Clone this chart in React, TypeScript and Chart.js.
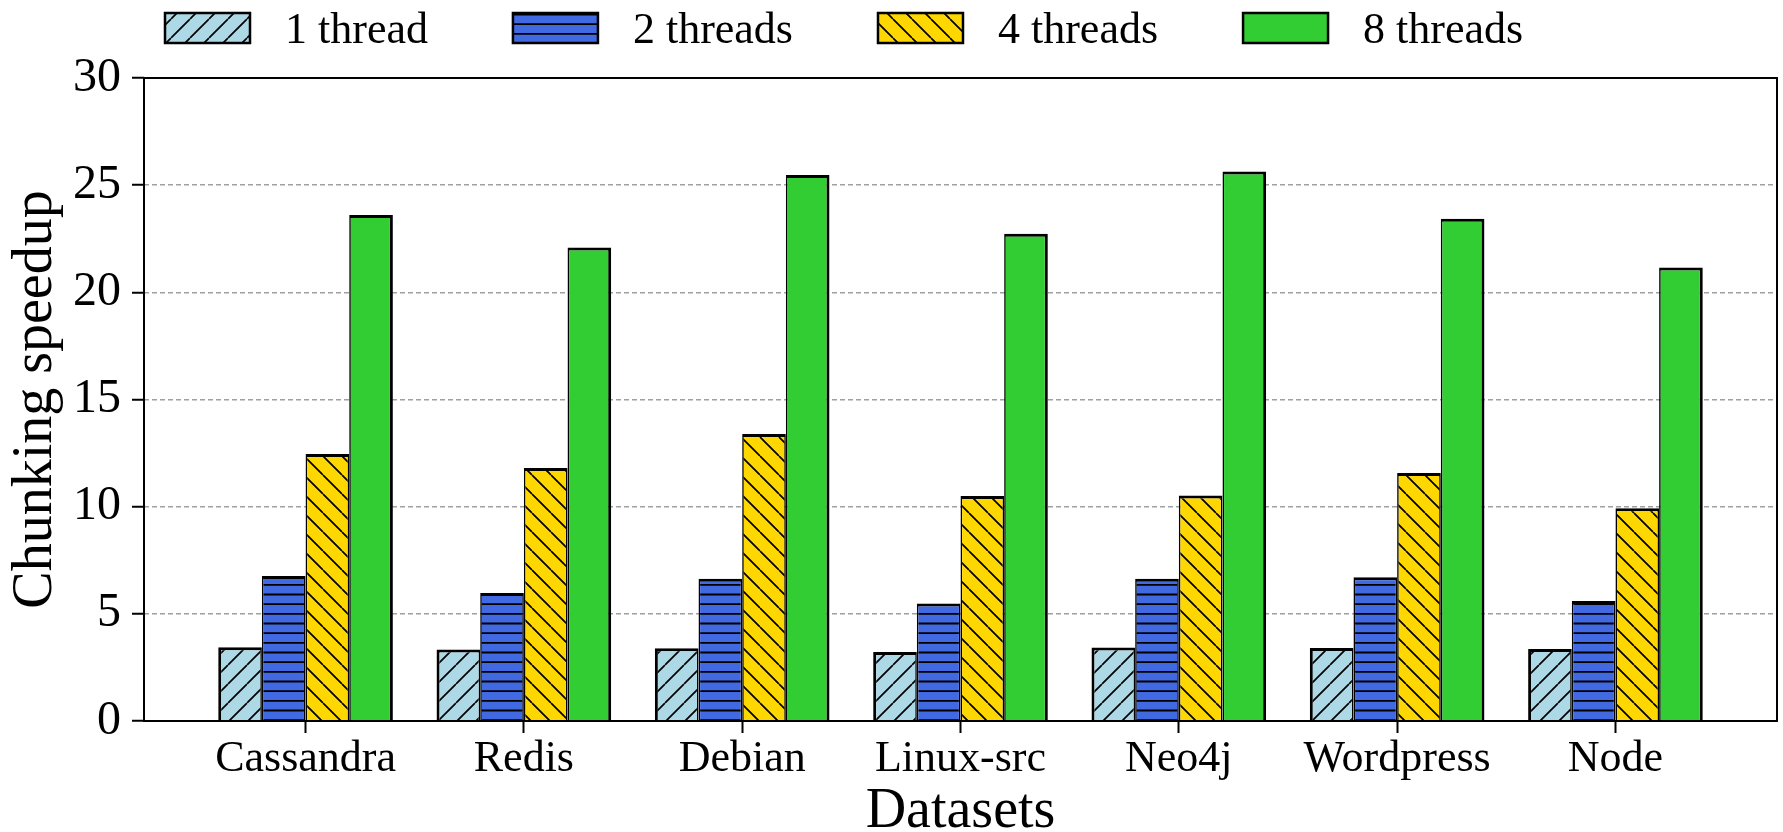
import React, { useEffect, useRef } from "react";
import { Chart, registerables } from "chart.js";

Chart.register(...registerables);

const categories = ["Cassandra", "Redis", "Debian", "Linux-src", "Neo4j", "Wordpress", "Node"];
const seriesLabels = ["1 thread", "2 threads", "4 threads", "8 threads"];
const thread1 = [3.44, 3.34, 3.39, 3.22, 3.43, 3.41, 3.36];
const thread2 = [6.77, 5.97, 6.64, 5.48, 6.64, 6.71, 5.6];
const thread4 = [12.46, 11.8, 13.39, 10.5, 10.52, 11.57, 9.93];
const thread8 = [23.61, 22.09, 25.48, 22.73, 25.64, 23.43, 21.16];
const yTicks = [0, 5, 10, 15, 20, 25, 30];
const seriesColors = ["#ADD8E6", "#4169E1", "#FFD700", "#32CD32"];
const seriesHatches = ["/", "-", "\\", ""];

const FONT = '"Liberation Serif", "Times New Roman", serif';

function makePattern(ctx: CanvasRenderingContext2D, color: string, hatch: string): any {
  if (!hatch) return color;
  const c = document.createElement("canvas");
  const w = hatch === "-" ? 10 : 19;
  const h = hatch === "-" ? 29 : 19;
  c.width = w;
  c.height = h;
  const g = c.getContext("2d")!;
  g.fillStyle = color;
  g.fillRect(0, 0, w, h);
  g.strokeStyle = "#000";
  g.lineWidth = hatch === "-" ? 1.8 : 1.7;
  g.beginPath();
  if (hatch === "-") {
    for (const y of [4.8, 14.5, 24.2]) {
      g.moveTo(0, y);
      g.lineTo(w, y);
    }
  } else if (hatch === "/") {
    for (const k of [-1, 0, 1]) {
      g.moveTo(k * w, h);
      g.lineTo(k * w + w, 0);
    }
  } else {
    for (const k of [-1, 0, 1]) {
      g.moveTo(k * w, 0);
      g.lineTo(k * w + w, h);
    }
  }
  g.stroke();
  return ctx.createPattern(c, "repeat");
}

const framePlugin = {
  id: "frame",
  afterDraw(chart: any) {
    const { ctx, chartArea } = chart;
    ctx.save();
    ctx.strokeStyle = "#000";
    ctx.lineWidth = 2;
    ctx.strokeRect(chartArea.left, chartArea.top, chartArea.right - chartArea.left, chartArea.bottom - chartArea.top);
    ctx.restore();
  },
};

const legendPlugin = {
  id: "customLegend",
  afterDraw(chart: any) {
    const ctx = chart.ctx;
    ctx.save();
    ctx.font = `44px ${FONT}`;
    ctx.textBaseline = "alphabetic";
    ctx.textAlign = "left";
    let x = 165;
    const boxW = 85;
    const boxH = 30;
    const boxY = 13;
    chart.data.datasets.forEach((ds: any) => {
      ctx.fillStyle = ds.backgroundColor;
      ctx.fillRect(x, boxY, boxW, boxH);
      ctx.lineWidth = 2.5;
      ctx.strokeStyle = "#000";
      ctx.strokeRect(x, boxY, boxW, boxH);
      ctx.fillStyle = "#000";
      const tx = x + boxW + 35;
      ctx.fillText(ds.label, tx, 43);
      x = tx + ctx.measureText(ds.label).width + 85;
    });
    ctx.restore();
  },
};

export default function App() {
  const ref = useRef<HTMLCanvasElement>(null);

  useEffect(() => {
    document.body.style.margin = "0";
    const canvas = ref.current!;
    const ctx = canvas.getContext("2d")!;
    Chart.defaults.font.family = FONT;
    Chart.defaults.color = "#000";

    const allSeries = [thread1, thread2, thread4, thread8];
    const borders = [
      { top: 3, left: 3, right: 1.6, bottom: 0 },
      { top: 3, left: 1.6, right: 1.6, bottom: 0 },
      { top: 3, left: 1.6, right: 1.6, bottom: 0 },
      { top: 3, left: 1.6, right: 3, bottom: 0 },
    ];

    const chart = new Chart(canvas, {
      type: "bar",
      data: {
        datasets: allSeries.map((vals, i) => ({
          label: seriesLabels[i],
          data: categories.map((_, j) => ({ x: j, y: vals[j] })),
          backgroundColor: makePattern(ctx, seriesColors[i], seriesHatches[i]),
          borderColor: "#000",
          borderWidth: borders[i],
          borderSkipped: "start",
          categoryPercentage: 0.8,
          barPercentage: 1.0,
        })),
      },
      options: {
        animation: false,
        responsive: false,
        maintainAspectRatio: false,
        devicePixelRatio: 1,
        layout: { padding: { top: 78, left: 0, right: 6, bottom: 0 } },
        plugins: {
          legend: { display: false },
          tooltip: { enabled: false },
        },
        scales: {
          x: {
            type: "linear",
            min: -0.74,
            max: 6.74,
            offset: false,
            afterFit: (s: any) => {
              s.height = 111;
            },
            ticks: {
              stepSize: 1,
              includeBounds: false,
              autoSkip: false,
              maxRotation: 0,
              minRotation: 0,
              padding: 0,
              color: "#000",
              font: { size: 44, family: FONT },
              callback: (v: any) => categories[v] ?? "",
            },
            grid: {
              display: true,
              offset: false,
              drawOnChartArea: false,
              drawTicks: true,
              tickLength: 12,
              tickColor: "#000",
              tickWidth: 2,
            },
            border: { display: false },
            title: {
              display: true,
              text: "Datasets",
              color: "#000",
              font: { size: 56, family: FONT, lineHeight: 1 },
              padding: { top: 0, bottom: -8 },
            },
          },
          y: {
            min: 0,
            max: 30,
            z: 1,
            afterFit: (s: any) => {
              s.width = 144;
            },
            afterBuildTicks: (s: any) => {
              s.ticks = yTicks.map((v) => ({ value: v }));
            },
            ticks: {
              padding: 11,
              color: "#000",
              font: { size: 48, family: FONT },
            },
            grid: {
              color: (c: any) =>
                c.tick && (c.tick.value === 0 || c.tick.value === 30) ? "rgba(0,0,0,0)" : "#a0a0a0",
              lineWidth: 1.5,
              tickLength: 12,
              tickColor: "#000",
              tickWidth: 2,
            },
            border: { display: false, dash: [5, 3] },
            title: {
              display: true,
              text: "Chunking speedup",
              color: "#000",
              font: { size: 56, family: FONT, lineHeight: 1 },
              padding: { top: 8, bottom: 0 },
            },
          },
        },
      } as any,
      plugins: [framePlugin, legendPlugin],
    });

    return () => chart.destroy();
  }, []);

  return (
    <div style={{ width: 1783, height: 832 }}>
      <canvas ref={ref} width={1783} height={832} style={{ display: "block", width: 1783, height: 832 }} />
    </div>
  );
}
